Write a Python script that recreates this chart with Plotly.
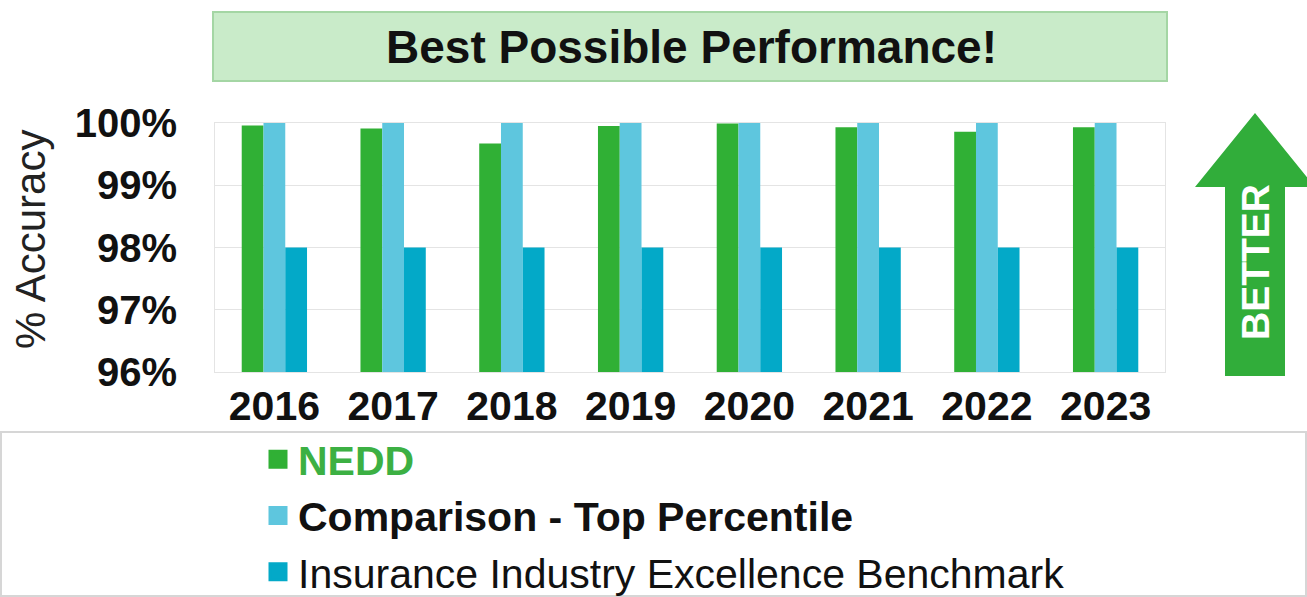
import plotly.graph_objects as go

# ---- data -------------------------------------------------------------
years = ["2016", "2017", "2018", "2019", "2020", "2021", "2022", "2023"]
nedd = [99.96, 99.91, 99.67, 99.95, 99.99, 99.93, 99.86, 99.93]
top_percentile = [100.0, 100.0, 100.0, 100.0, 100.0, 100.0, 100.0, 100.0]
industry_benchmark = [98.0, 98.0, 98.0, 98.0, 98.0, 98.0, 98.0, 98.0]

y_ticks = [96, 97, 98, 99, 100]
y_tick_text = ["96%", "97%", "98%", "99%", "100%"]

series_names = [
    "<span style='color:#3cb043'><b>NEDD</b></span>",
    "<b>Comparison - Top Percentile</b>",
    "Insurance Industry Excellence Benchmark",
]
series_colors = ["#30b035", "#5ec6de", "#03a9c8"]

# ---- page geometry ----------------------------------------------------
W, H = 1307, 597
L, R, T, B = 215, 1165, 123, 372  # plot area edges in px

FONT = "Liberation Sans, Arial, sans-serif"


def px(x):
    return (x - L) / (R - L)


def py(y):
    return (B - y) / (B - T)


fig = go.Figure()
for i, (name, vals, col) in enumerate(zip(series_names,
                                          [nedd, top_percentile, industry_benchmark],
                                          series_colors)):
    fig.add_trace(go.Bar(
        x=years, y=vals, name=name, marker_color=col,
        marker_line_width=0, legendgroup=f"s{i}", showlegend=False,
    ))
# larger square legend keys for the three series
for i, (name, col) in enumerate(zip(series_names, series_colors)):
    fig.add_trace(go.Scatter(
        x=[None], y=[None], mode="markers", name=name, legendgroup=f"s{i}",
        marker=dict(symbol="square", size=16, color=col, line=dict(color=col, width=3)),
        hoverinfo="skip",
    ))

shapes = []
# title banner
shapes.append(dict(type="rect", xref="paper", yref="paper",
                   x0=px(213), x1=px(1167), y0=py(81), y1=py(12),
                   fillcolor="#c9ebc9", line=dict(color="#a4d6a4", width=2), layer="below"))
# legend panel
shapes.append(dict(type="rect", xref="paper", yref="paper",
                   x0=px(1), x1=px(1306), y0=py(596), y1=py(432),
                   fillcolor="rgba(0,0,0,0)", line=dict(color="#d6d6d6", width=2), layer="below"))
# "better" arrow
pts = [(1255, 113), (1315, 187), (1285, 187), (1285, 376), (1225, 376), (1225, 187), (1195, 187)]
path = "M " + " L ".join(f"{px(x):.5f},{py(y):.5f}" for x, y in pts) + " Z"
shapes.append(dict(type="path", xref="paper", yref="paper", path=path,
                   fillcolor="#31ad3a", line=dict(width=0), layer="above"))

annotations = [
    dict(text="<b>Best Possible Performance!</b>", xref="paper", yref="paper",
         x=px(691), y=py(47), showarrow=False, xanchor="center", yanchor="middle",
         font=dict(family=FONT, size=46, color="#111111")),
    dict(text="<b>BETTER</b>", xref="paper", yref="paper",
         x=px(1255), y=py(262), showarrow=False, xanchor="center", yanchor="middle",
         textangle=-90, font=dict(family=FONT, size=39, color="#ffffff")),
    dict(text="% Accuracy", xref="paper", yref="paper",
         x=px(30), y=py(240), showarrow=False, xanchor="center", yanchor="middle",
         textangle=-90, font=dict(family=FONT, size=42, color="#222222")),
]

fig.update_layout(
    width=W, height=H,
    margin=dict(l=L, r=W - R, t=T, b=H - B, pad=0, autoexpand=False),
    paper_bgcolor="white", plot_bgcolor="white",
    barmode="group", bargap=0.45, bargroupgap=0,
    font=dict(family=FONT, color="#111111"),
    shapes=shapes, annotations=annotations,
    showlegend=True,
    legend=dict(
        xref="container", yref="container",
        x=258 / W, y=1 - 426 / H, xanchor="left", yanchor="top",
        font=dict(family=FONT, size=41, color="#111111"),
        tracegroupgap=1, bgcolor="rgba(0,0,0,0)", borderwidth=0,
        traceorder="normal",
    ),
)
fig.update_xaxes(
    showgrid=False, showline=True, linecolor="#e4e4e4", linewidth=1, mirror=True,
    tickfont=dict(family=FONT, size=41, color="#111111"),
    tickprefix="<b>", ticksuffix="</b>", ticks="", ticklabelstandoff=-2,
    automargin=False, tickangle=0,
)
fig.update_yaxes(
    range=[96, 100], tickvals=y_ticks, ticktext=[f"<b>{t}</b>" for t in y_tick_text],
    showgrid=True, gridcolor="#e4e4e4", gridwidth=1, zeroline=False,
    showline=True, linecolor="#e4e4e4", linewidth=1, mirror=True,
    tickfont=dict(family=FONT, size=40, color="#111111"),
    ticks="", ticklabelstandoff=29, automargin=False,
)

fig.write_html("out.html")
